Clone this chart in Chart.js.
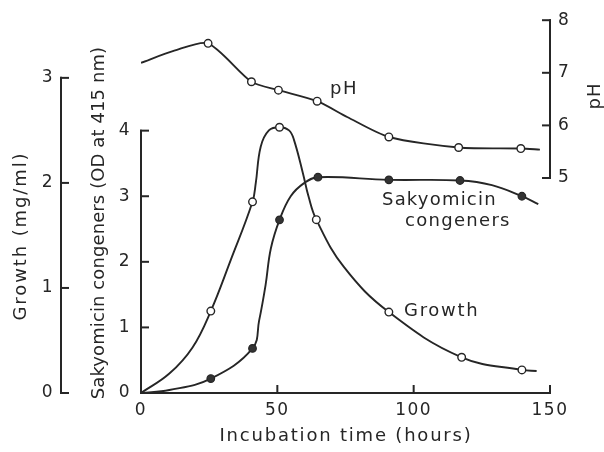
<!DOCTYPE html>
<html>
<head>
<meta charset="utf-8">
<script src="https://cdn.jsdelivr.net/npm/chart.js@4.4.1/dist/chart.umd.min.js"></script>
<style>
html,body{margin:0;padding:0;background:#fff;}
#wrap{width:604px;height:452px;position:relative;}
</style>
</head>
<body>
<div id="wrap"><canvas id="c" width="604" height="452"></canvas></div>
<script>
// ---------- data ----------
// measured samples (markers)
const growthHours = [25.6, 40.9, 50.8, 64.3, 90.9, 117.6, 139.7];
const growthMgMl  = [0.78, 1.82, 2.53, 1.65, 0.77, 0.34, 0.22];
const sakHours    = [25.6, 40.9, 50.8, 64.9, 90.9, 117.0, 139.7];
const sakOD       = [0.22, 0.68, 2.64, 3.29, 3.25, 3.24, 3.00];
const pHHours     = [24.6, 40.5, 50.4, 64.6, 90.9, 116.5, 139.3];
const pHValues    = [7.56, 6.83, 6.67, 6.46, 5.78, 5.58, 5.56];
// drawn smooth curves
const growthCurveHours = [0, 10.4, 18.9, 25.6, 32.9, 40.9, 42.1, 43.9, 46.9, 50.8, 54.3, 56.1, 59.4, 61.4, 64.3, 74.4, 90.9, 117.6, 139.7, 145.1];
const growthCurveMgMl  = [0, 0.185, 0.434, 0.78, 1.265, 1.82, 2.00, 2.345, 2.50, 2.53, 2.50, 2.41, 2.09, 1.875, 1.65, 1.20, 0.77, 0.34, 0.22, 0.21];
const sakCurveHours = [0, 10.4, 25.6, 40.9, 43.3, 45.7, 47.6, 50.8, 54.9, 59.8, 64.9, 90.9, 117.0, 128.7, 139.7, 145.7];
const sakCurveOD    = [0, 0.045, 0.22, 0.68, 1.10, 1.65, 2.20, 2.64, 3.00, 3.20, 3.29, 3.25, 3.24, 3.17, 3.00, 2.88];
const pHCurveHours  = [0, 12.2, 24.6, 40.5, 50.4, 64.6, 75.6, 90.9, 116.5, 139.3, 146.3];
const pHCurveValues = [7.19, 7.42, 7.56, 6.83, 6.67, 6.46, 6.16, 5.78, 5.58, 5.56, 5.54];
// axis ticks
const hourTicks   = [0, 50, 100, 150];
const growthTicks = [0, 1, 2, 3];
const sakTicks    = [0, 1, 2, 3, 4];
const pHTicks     = [5, 6, 7, 8];
// texts
const xTitle = 'Incubation time (hours)';
const growthTitle = 'Growth (mg/ml)';
const sakTitle = 'Sakyomicin congeners (OD at 415 nm)';
const pHTitle = 'pH';

const INK = '#262626';
const FONT = 'DejaVu Sans';

function pts(xs, ys){ return xs.map((x,i)=>({x:x, y:ys[i]})); }
function setTicks(list){ return function(scale){ scale.ticks = list.map(v=>({value:v})); }; }

const axesPlugin = {
  id: 'axesPlugin',
  beforeDraw(chart){ chart.ctx.letterSpacing = '1.5px'; },
  beforeDatasetsDraw(chart){
    const ctx = chart.ctx;
    const sx = chart.scales.x, sg = chart.scales.g, ss = chart.scales.s, sp = chart.scales.p;
    ctx.save();
    ctx.strokeStyle = INK; ctx.lineWidth = 2; ctx.lineCap = 'square';
    const T = 7;
    function seg(x1,y1,x2,y2){ ctx.beginPath(); ctx.moveTo(x1,y1); ctx.lineTo(x2,y2); ctx.stroke(); }
    // growth axis (outer left)
    const gx = sg.right;
    seg(gx, sg.getPixelForValue(growthTicks[0]), gx, sg.getPixelForValue(growthTicks[growthTicks.length-1]));
    growthTicks.forEach(v=>{ const y=sg.getPixelForValue(v); seg(gx,y,gx+T,y); });
    // sakyomicin axis (inner left)
    const sxp = ss.right;
    seg(sxp, ss.getPixelForValue(sakTicks[0]), sxp, ss.getPixelForValue(sakTicks[sakTicks.length-1]));
    sakTicks.forEach(v=>{ const y=ss.getPixelForValue(v); seg(sxp,y,sxp+T,y); });
    // pH axis (right)
    const px = sp.left;
    seg(px, sp.getPixelForValue(pHTicks[0]), px, sp.getPixelForValue(pHTicks[pHTicks.length-1]));
    pHTicks.forEach(v=>{ const y=sp.getPixelForValue(v); seg(px,y,px-T,y); });
    // time axis
    const by = sx.top;
    seg(sx.getPixelForValue(hourTicks[0]), by, sx.getPixelForValue(hourTicks[hourTicks.length-1]), by);
    hourTicks.slice(1).forEach(v=>{ const x=sx.getPixelForValue(v); seg(x,by,x,by-T); });
    ctx.restore();
  },
  afterDraw(chart){
    const ctx = chart.ctx;
    function txt(s, x, y, o){
      ctx.save();
      ctx.fillStyle = INK;
      ctx.font = (o.size||18) + 'px "' + FONT + '"';
      ctx.letterSpacing = (o.ls||0) + 'px';
      ctx.textAlign = o.align || 'left';
      ctx.textBaseline = o.base || 'alphabetic';
      ctx.translate(x, y);
      if (o.rot) ctx.rotate(o.rot);
      ctx.fillText(s, 0, 0);
      ctx.restore();
    }
    txt(xTitle, 346, 436, {align:'center', base:'middle', ls:1.8});
    txt(growthTitle, 21, 236, {align:'center', base:'middle', ls:1.9, rot:-Math.PI/2});
    txt(sakTitle, 99, 223, {align:'center', base:'middle', ls:0.1, rot:-Math.PI/2});
    txt(pHTitle, 595, 96, {align:'center', base:'middle', ls:1, rot:-Math.PI/2});
    txt('pH', 330, 94, {ls:1.5});
    txt('Sakyomicin', 382, 205, {ls:1.2});
    txt('congeners', 405, 226, {ls:1.3});
    txt('Growth', 404, 316, {ls:1.7});
  }
};

const tickFont = {family: FONT, size: 17};
const baseAxis = {
  grid: {display:false, drawTicks:false},
  border: {display:false},
  ticks: {font: tickFont, color: INK, autoSkip:false, maxRotation:0}
};

new Chart(document.getElementById('c'), {
  type: 'line',
  data: {
    datasets: [
      {label:'Growth markers', type:'scatter', data: pts(growthHours, growthMgMl), yAxisID:'g', xAxisID:'x',
       showLine:false, pointRadius:3.8, pointBackgroundColor:'#fff', pointBorderColor:INK, pointBorderWidth:1.4, order:0},
      {label:'Sakyomicin markers', type:'scatter', data: pts(sakHours, sakOD), yAxisID:'s', xAxisID:'x',
       showLine:false, pointRadius:3.8, pointBackgroundColor:'#333', pointBorderColor:INK, pointBorderWidth:1.2, order:0},
      {label:'pH markers', type:'scatter', data: pts(pHHours, pHValues), yAxisID:'p', xAxisID:'x',
       showLine:false, pointRadius:3.8, pointBackgroundColor:'#fff', pointBorderColor:INK, pointBorderWidth:1.4, order:0},
      {label:'Growth', data: pts(growthCurveHours, growthCurveMgMl), yAxisID:'g', xAxisID:'x',
       borderColor:INK, borderWidth:1.9, pointRadius:0, tension:0.4, fill:false, order:1},
      {label:'Sakyomicin congeners', data: pts(sakCurveHours, sakCurveOD), yAxisID:'s', xAxisID:'x',
       borderColor:INK, borderWidth:1.9, pointRadius:0, tension:0.4, fill:false, order:1},
      {label:'pH', data: pts(pHCurveHours, pHCurveValues), yAxisID:'p', xAxisID:'x',
       borderColor:INK, borderWidth:1.9, pointRadius:0, tension:0.25, fill:false, order:1}
    ]
  },
  options: {
    responsive:false, animation:false, devicePixelRatio:1,
    layout: {padding:{top:15, left:0, right:0, bottom:0}},
    plugins: {legend:{display:false}, tooltip:{enabled:false}},
    scales: {
      x: Object.assign({}, baseAxis, {type:'linear', position:'bottom', min:0, max:150,
          afterBuildTicks:setTicks(hourTicks), afterFit:s=>{s.height=59;},
          ticks:Object.assign({}, baseAxis.ticks, {padding:7})}),
      g: Object.assign({}, baseAxis, {type:'linear', position:'left', weight:2, min:0, max:3.549,
          afterBuildTicks:setTicks(growthTicks), afterFit:s=>{s.width=61;},
          ticks:Object.assign({}, baseAxis.ticks, {padding:7})}),
      s: Object.assign({}, baseAxis, {type:'linear', position:'left', weight:1, min:0, max:5.684,
          afterBuildTicks:setTicks(sakTicks), afterFit:s=>{s.width=80;},
          ticks:Object.assign({}, baseAxis.ticks, {padding:10})}),
      p: Object.assign({}, baseAxis, {type:'linear', position:'right', min:0.9125, max:8,
          afterBuildTicks:setTicks(pHTicks), afterFit:s=>{s.width=54;},
          ticks:Object.assign({}, baseAxis.ticks, {padding:8})})
    }
  },
  plugins: [axesPlugin]
});
</script>
</body>
</html>
